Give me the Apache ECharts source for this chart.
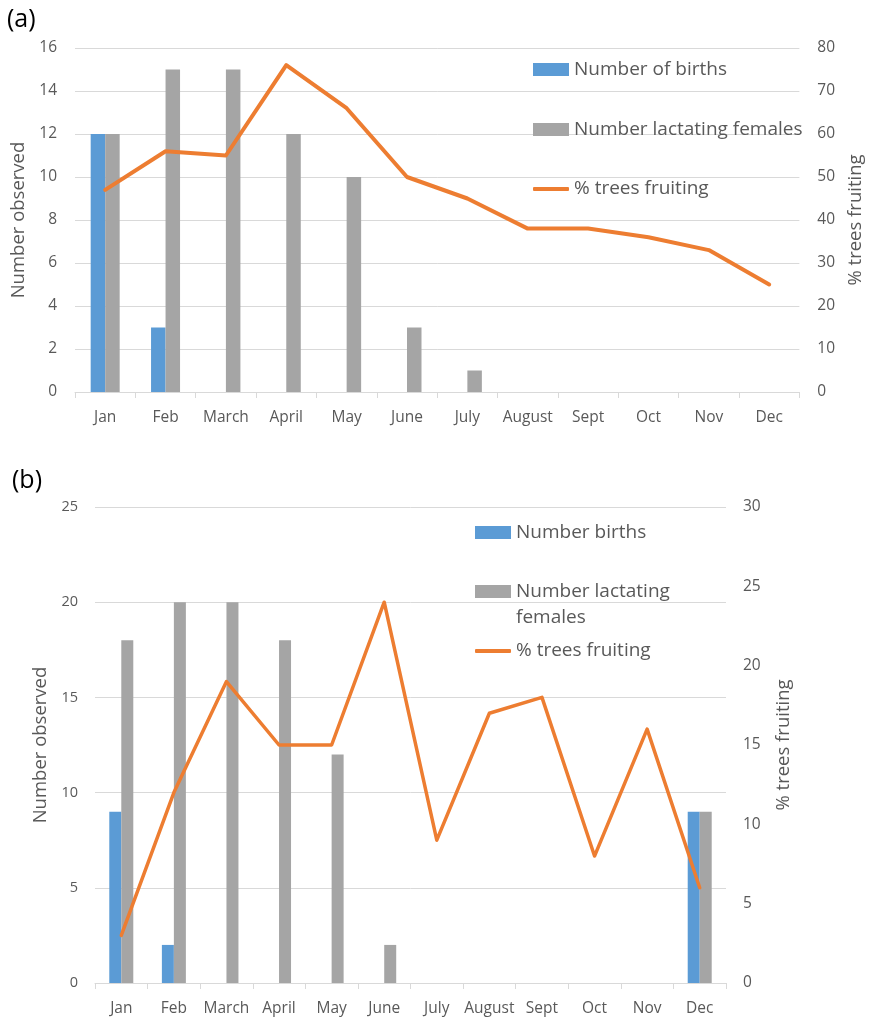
<!DOCTYPE html>
<html>
<head>
<meta charset="utf-8">
<script src="https://cdn.jsdelivr.net/npm/echarts@6/dist/echarts.min.js"></script>
<style>
html,body{margin:0;padding:0;background:#fff;}
#c{width:873px;height:1017px;}
</style>
</head>
<body>
<div id="c"></div>
<script>
// ---- Data ----
const monthsA = ['Jan','Feb','March','April','May','June','July','August','Sept','Oct','Nov','Dec'];
const birthsA = [12, 3, 0, 0, 0, 0, 0, 0, 0, 0, 0, 0];
const lactatingA = [12, 15, 15, 12, 10, 3, 1, 0, 0, 0, 0, 0];
const fruitingA = [47, 56, 55, 76, 66, 50, 45, 38, 38, 36, 33, 25];

const monthsB = ['Jan','Feb','March','April','May','June','July','August','Sept','Oct','Nov','Dec'];
const birthsB = [9, 2, 0, 0, 0, 0, 0, 0, 0, 0, 0, 9];
const lactatingB = [18, 20, 20, 18, 12, 2, 0, 0, 0, 0, 0, 9];
const fruitingB = [3, 12, 19, 15, 15, 24, 9, 17, 18, 8, 16, 6];

const BLUE = '#5b9bd5', GRAY = '#a5a5a5', ORANGE = '#ed7d31';
const TXT = '#595959', GRID = '#d9d9d9';
const FONT = '"Open Sans", "Noto Sans", sans-serif';
const LEG_FS = 19, TICK_FS = 15.5, NAME_FS = 18.5;

const chart = echarts.init(document.getElementById('c'), null, {renderer: 'canvas'});

function legendItem(name, left, top, icon, opts) {
  return Object.assign({
    data: [name],
    left: left, top: top,
    orient: 'vertical',
    icon: icon,
    itemWidth: 36, itemHeight: icon === 'roundRect' ? 4 : 13,
    itemGap: 0, padding: 0,
    selectedMode: false,
    textStyle: {color: TXT, fontSize: LEG_FS, fontFamily: FONT, lineHeight: 20}
  }, opts || {});
}

const option = {
  backgroundColor: '#fff',
  animation: false,
  textStyle: {fontFamily: FONT},
  title: [
    {text: '(a)', left: 7, top: 7, padding: 0, textStyle: {fontSize: 25, fontWeight: 'normal', color: '#000', fontFamily: FONT}},
    {text: '(b)', left: 12, top: 468, padding: 0, textStyle: {fontSize: 25, fontWeight: 'normal', color: '#000', fontFamily: FONT}}
  ],
  legend: [
    legendItem('Number of births', 533, 59.5, 'rect'),
    legendItem('Number lactating females', 533, 119.5, 'rect'),
    legendItem('% trees fruiting', 533, 179, 'roundRect'),
    legendItem('Number births', 475, 522.5, 'rect'),
    legendItem('Number lactating females (b)', 475, 552.5, 'rect', {
      formatter: function(){ return ' \nNumber lactating\nfemales'; },
      textStyle: {color: TXT, fontSize: LEG_FS, fontFamily: FONT, lineHeight: 26}
    }),
    legendItem('% trees fruiting (b)', 475, 641, 'roundRect', {
      formatter: function(){ return '% trees fruiting'; }
    })
  ],
  grid: [
    {left: 75, right: 61, top: 48, bottom: 625, containLabel: false},
    {left: 95, right: 147, top: 507, bottom: 34, containLabel: false}
  ],
  xAxis: [
    {
      type: 'category', gridIndex: 0, data: monthsA, boundaryGap: true,
      axisLine: {lineStyle: {color: GRID, width: 1}},
      axisTick: {show: true, length: 6, lineStyle: {color: GRID}},
      axisLabel: {color: TXT, fontSize: TICK_FS, margin: 18, interval: 0, fontFamily: FONT}
    },
    {
      type: 'category', gridIndex: 1, data: monthsB, boundaryGap: true,
      axisLine: {lineStyle: {color: GRID, width: 1}},
      axisTick: {show: true, length: 6, lineStyle: {color: GRID}},
      axisLabel: {color: TXT, fontSize: TICK_FS, margin: 18, interval: 0, fontFamily: FONT}
    }
  ],
  yAxis: [
    {
      type: 'value', gridIndex: 0, min: 0, max: 16, interval: 2,
      name: 'Number observed', nameLocation: 'middle', nameGap: 45,
      nameTextStyle: {color: TXT, fontSize: NAME_FS, fontFamily: FONT},
      axisLine: {show: false}, axisTick: {show: false},
      axisLabel: {color: TXT, fontSize: TICK_FS, margin: 18, fontFamily: FONT},
      splitLine: {show: true, lineStyle: {color: GRID, width: 1}}
    },
    {
      type: 'value', gridIndex: 0, position: 'right', min: 0, max: 80, interval: 10,
      name: '% trees fruiting', nameLocation: 'middle', nameGap: 46, nameRotate: 90,
      nameTextStyle: {color: TXT, fontSize: NAME_FS, fontFamily: FONT},
      axisLine: {show: false}, axisTick: {show: false},
      axisLabel: {color: TXT, fontSize: TICK_FS, margin: 18, fontFamily: FONT},
      splitLine: {show: false}
    },
    {
      type: 'value', gridIndex: 1, min: 0, max: 25, interval: 5,
      name: 'Number observed', nameLocation: 'middle', nameGap: 43,
      nameTextStyle: {color: TXT, fontSize: NAME_FS, fontFamily: FONT},
      axisLine: {show: false}, axisTick: {show: false},
      axisLabel: {color: TXT, fontSize: 14.5, margin: 17, fontFamily: FONT},
      splitLine: {show: true, lineStyle: {color: GRID, width: 1}}
    },
    {
      type: 'value', gridIndex: 1, position: 'right', min: 0, max: 30, interval: 5,
      name: '% trees fruiting', nameLocation: 'middle', nameGap: 48, nameRotate: 90,
      nameTextStyle: {color: TXT, fontSize: NAME_FS, fontFamily: FONT},
      axisLine: {show: false}, axisTick: {show: false},
      axisLabel: {color: TXT, fontSize: TICK_FS, margin: 17, fontFamily: FONT},
      splitLine: {show: false}
    }
  ],
  series: [
    {name: 'Number of births', type: 'bar', xAxisIndex: 0, yAxisIndex: 0, data: birthsA,
     barWidth: 14.5, barGap: '0%', itemStyle: {color: BLUE}},
    {name: 'Number lactating females', type: 'bar', xAxisIndex: 0, yAxisIndex: 0, data: lactatingA,
     barWidth: 14.5, barGap: '0%', itemStyle: {color: GRAY}},
    {name: '% trees fruiting', type: 'line', xAxisIndex: 0, yAxisIndex: 1, data: fruitingA,
     symbol: 'none', lineStyle: {color: ORANGE, width: 4, cap: 'round', join: 'round'}, itemStyle: {color: ORANGE}},
    {name: 'Number births', type: 'bar', xAxisIndex: 1, yAxisIndex: 2, data: birthsB,
     barWidth: 12, barGap: '0%', itemStyle: {color: BLUE}},
    {name: 'Number lactating females (b)', type: 'bar', xAxisIndex: 1, yAxisIndex: 2, data: lactatingB,
     barWidth: 12, barGap: '0%', itemStyle: {color: GRAY}},
    {name: '% trees fruiting (b)', type: 'line', xAxisIndex: 1, yAxisIndex: 3, data: fruitingB,
     symbol: 'none', lineStyle: {color: ORANGE, width: 3.5, cap: 'round', join: 'round'}, itemStyle: {color: ORANGE}}
  ]
};
chart.setOption(option);
</script>
</body>
</html>
